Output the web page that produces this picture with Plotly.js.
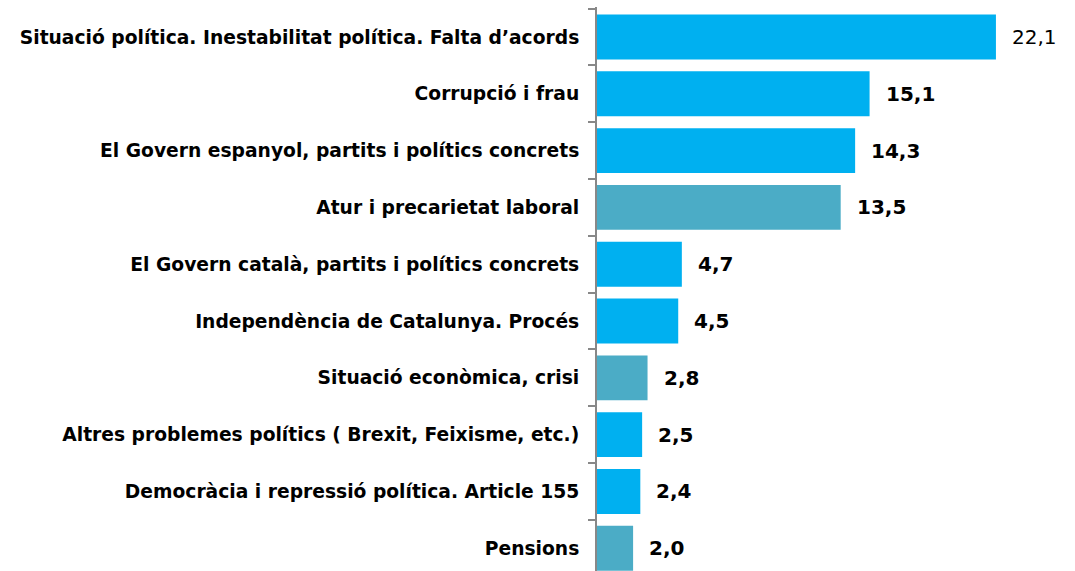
<!DOCTYPE html>
<html>
<head>
<meta charset="utf-8">
<script src="https://cdn.plot.ly/plotly-3.0.1.min.js"></script>
<style>html,body{margin:0;padding:0;background:#fff;}#chart{width:1075px;height:571px;}</style>
</head>
<body>
<div id="chart"></div>
<script>
// Data
const categories = [
  "Situació política. Inestabilitat política. Falta d’acords",
  "Corrupció i frau",
  "El Govern espanyol, partits i polítics concrets",
  "Atur i precarietat laboral",
  "El Govern català, partits i polítics concrets",
  "Independència de Catalunya. Procés",
  "Situació econòmica, crisi",
  "Altres problemes polítics ( Brexit, Feixisme, etc.)",
  "Democràcia i repressió política. Article 155",
  "Pensions"
];
const values = [22.1, 15.1, 14.3, 13.5, 4.7, 4.5, 2.8, 2.5, 2.4, 2.0];
const valueLabels = ["22,1", "15,1", "14,3", "13,5", "4,7", "4,5", "2,8", "2,5", "2,4", "2,0"];
const group = ["pol", "pol", "pol", "eco", "pol", "pol", "eco", "pol", "pol", "eco"];

// Styles
const groupColors = {pol: "#00B0F0", eco: "#4BACC6"};
const labelWeights = values.map((v, i) => i === 0 ? "normal" : "bold");

const trace = {
  type: "bar",
  orientation: "h",
  x: values,
  y: categories,
  width: 0.79,
  marker: {color: group.map(g => groupColors[g])},
  hoverinfo: "x+y"
};

const annotations = values.map((v, i) => ({
  x: v, y: categories[i], xref: "x", yref: "y",
  text: valueLabels[i], showarrow: false,
  xanchor: "left", yanchor: "middle", xshift: 14,
  font: {family: "DejaVu Sans", size: 20, color: "#000", weight: labelWeights[i]}
}));

const layout = {
  width: 1075, height: 571,
  margin: {l: 597, r: 0, t: 7, b: 0, pad: 0},
  paper_bgcolor: "#fff", plot_bgcolor: "#fff",
  showlegend: false,
  xaxis: {range: [0, 26.48], visible: false, showgrid: false, zeroline: false},
  yaxis: {
    type: "category",
    range: [9.40, -0.528],
    showline: true, linecolor: "#888888", linewidth: 2,
    ticks: "outside", tickson: "boundaries", ticklen: 7, tickwidth: 2, tickcolor: "#888888",
    showgrid: false, zeroline: false,
    ticklabelstandoff: 12,
    tickfont: {family: "DejaVu Sans", size: 18.7, color: "#000", weight: "bold"}
  },
  annotations: annotations
};

Plotly.newPlot("chart", [trace], layout, {displayModeBar: false, staticPlot: true});
</script>
</body>
</html>
